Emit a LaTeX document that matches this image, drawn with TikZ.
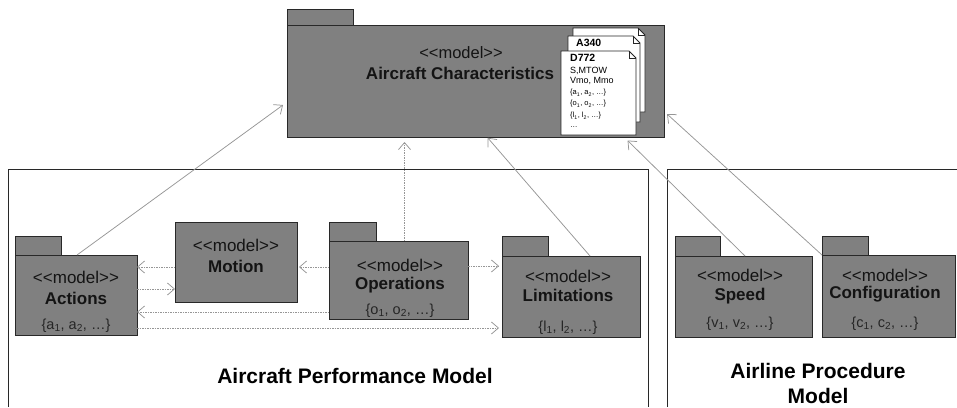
\documentclass[tikz,border=0pt]{standalone}
\usepackage{fontspec}
\setmainfont{Liberation Sans}
\usetikzlibrary{arrows.meta,calc}
\definecolor{pkgfill}{RGB}{128,128,128}
\definecolor{pkgline}{RGB}{40,40,40}
\definecolor{conn}{RGB}{150,150,150}
\definecolor{txt}{RGB}{20,20,20}
\newcommand\mdlst{<\kern0pt<model>\kern0pt>}
\newcommand\docpg[4]{%
  \filldraw[page] (#1,#2) -- (#3-7,#2) -- (#3,#2+7) -- (#3,#4) -- (#1,#4) -- cycle;
  \draw[page,fill=none] (#3-7,#2) -- (#3-7,#2+7) -- (#3,#2+7);}
\begin{document}
\begin{tikzpicture}[x=1pt,y=-1pt,
  pkg/.style={draw=pkgline, fill=pkgfill, line width=1pt, anchor=north west, inner sep=0pt, outer sep=0pt},
  st/.style={font=\fontsize{17}{19}\selectfont, text=txt, inner sep=0pt},
  nm/.style={font=\fontsize{17}{19}\selectfont\bfseries, text=txt, inner sep=0pt},
  setl/.style={font=\fontsize{14.5}{16}\selectfont, text=black!85, inner sep=0pt},
  frame/.style={draw=pkgline, line width=1pt},
  title/.style={font=\fontsize{21}{25}\selectfont\bfseries, text=black, align=center, inner sep=0pt},
  dep/.style={draw=conn, line width=0.75pt, -{Straight Barb[length=7pt,width=12pt]}},
  hdep/.style={dep, dash pattern=on 1.5pt off 1pt},
  page/.style={draw=black!85, fill=white, line width=0.8pt},
  pgb/.style={font=\fontsize{10.5}{12}\selectfont\bfseries, inner sep=0pt, anchor=west},
  pgt/.style={font=\fontsize{9}{10}\selectfont, inner sep=0pt, anchor=west},
  pgs/.style={font=\fontsize{7.5}{9}\selectfont, inner sep=0pt, anchor=west}]
\useasboundingbox (0,0) rectangle (957,407);

% frames
\draw[frame] (8,407) -- (8,169) -- (648,169) -- (648,407);
\draw[frame] (667,407) -- (667,169) -- (957,169);
\node[title] (apmt) at (355,376) {Aircraft Performance Model};
\node[title] (aplt) at (818,383) {Airline Procedure\\Model};

% Aircraft Characteristics
\node[pkg, minimum width=66pt, minimum height=16pt] (act) at (287,9) {};
\node[pkg, minimum width=377pt, minimum height=112pt] (acb) at (287,25) {};
\node[st, font=\fontsize{16.5}{18}\selectfont] (acs) at (461,53) {\mdlst};
\node[nm] (acn) at (460,73) {Aircraft Characteristics};
\docpg{573}{28}{645}{112}
\docpg{568}{36}{640}{122}
\docpg{561}{51}{636}{135}
\node[pgb] (p1) at (576,43) {A340};
\node[pgb] (p2) at (570,58) {D772};
\node[pgt] (p3) at (570,71) {S,MTOW};
\node[pgt] (p4) at (570,81) {Vmo, Mmo};
\node[pgs] (p5) at (570,93) {\{a\textsubscript{1}, a\textsubscript{2}, …\}};
\node[pgs] (p6) at (570,104) {\{o\textsubscript{1}, o\textsubscript{2}, …\}};
\node[pgs] (p7) at (570,116) {\{l\textsubscript{1}, l\textsubscript{2}, …\}};
\node[pgs] (p8) at (570,127) {…};

% Actions
\node[pkg, minimum width=46pt, minimum height=19pt] (actt) at (15,236) {};
\node[pkg, minimum width=122pt, minimum height=80pt] (actb) at (15,255) {};
\node[st] (acts) at (76,277) {\mdlst};
\node[nm] (actn) at (76,298) {Actions};
\node[setl] (actl) at (76,326) {\{a\textsubscript{1}, a\textsubscript{2}, …\}};

% Motion
\node[pkg, minimum width=122pt, minimum height=80pt] (motb) at (175,222) {};
\node[st] (mots) at (236,245) {\mdlst};
\node[nm] (motn) at (236,266) {Motion};

% Operations
\node[pkg, minimum width=47pt, minimum height=19pt] (opt) at (329,222) {};
\node[pkg, minimum width=139pt, minimum height=78pt] (opb) at (329,241) {};
\node[st] (ops) at (400,265) {\mdlst};
\node[nm] (opn) at (400,285) {Operations};
\node[setl] (opl) at (400,311) {\{o\textsubscript{1}, o\textsubscript{2}, …\}};

% Limitations
\node[pkg, minimum width=46pt, minimum height=20pt] (limt) at (502,236) {};
\node[pkg, minimum width=138pt, minimum height=81pt] (limb) at (502,256) {};
\node[st] (lims) at (568,276) {\mdlst};
\node[nm] (limn) at (568,295) {Limitations};
\node[setl] (liml) at (568,328) {\{l\textsubscript{1}, l\textsubscript{2}, …\}};

% Speed
\node[pkg, minimum width=45pt, minimum height=20pt] (spdt) at (675,236) {};
\node[pkg, minimum width=137pt, minimum height=81pt] (spdb) at (675,256) {};
\node[st] (spds) at (740,275) {\mdlst};
\node[nm] (spdn) at (740,296) {Speed};
\node[setl] (spdl) at (740,324) {\{v\textsubscript{1}, v\textsubscript{2}, …\}};

% Configuration
\node[pkg, minimum width=46pt, minimum height=19pt] (cfgt) at (822,236) {};
\node[pkg, minimum width=133pt, minimum height=82pt] (cfgb) at (822,255) {};
\node[st] (cfgs) at (885,275) {\mdlst};
\node[nm] (cfgn) at (885,294) {Configuration};
\node[setl] (cfgl) at (885,324) {\{c\textsubscript{1}, c\textsubscript{2}, …\}};

% dependencies to Aircraft Characteristics
\draw[dep] ([xshift=62pt]actb.north west) -- ([xshift=-4pt,yshift=-24pt]acb.west);
\draw[hdep, shorten >=5pt] ([xshift=6pt]opb.north) -- ([xshift=6pt]opb.north |- acb.south);
\draw[dep, shorten >=1pt] ([xshift=88pt]limb.north west) -- ([xshift=200pt]acb.south west);
\draw[dep, shorten >=5pt] ([xshift=70pt]spdb.north west) -- ([xshift=337pt]acb.south west);
\draw[dep] (cfgb.north west) -- ([xshift=3pt,yshift=-33pt]acb.east);

% horizontal dependencies
\draw[hdep] ([yshift=-5pt]motb.west) -- ([yshift=-5pt]motb.west -| actb.east);
\draw[hdep] ([yshift=-27pt]motb.west -| actb.east) -- ([yshift=-27pt]motb.west);
\draw[hdep, shorten >=2pt] ([yshift=13pt]opb.west) -- ([yshift=13pt]opb.west -| motb.east);
\draw[hdep] ([yshift=-32pt]opb.west) -- ([yshift=-32pt]opb.west -| actb.east);
\draw[hdep, shorten >=3pt] ([yshift=-33pt]actb.east) -- ([yshift=-33pt]actb.east -| limb.west);
\draw[hdep, shorten >=3pt] ([yshift=14pt]opb.east) -- ([yshift=14pt]opb.east -| limb.west);
\end{tikzpicture}
\end{document}
